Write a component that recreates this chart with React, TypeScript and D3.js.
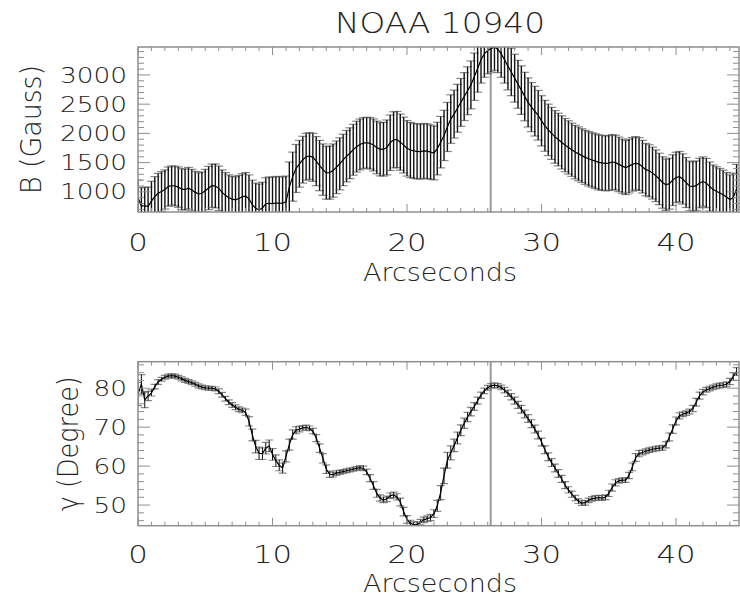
import React from "react";
import * as d3 from "d3";

// ---------- data (sampled every 0.25 arcsec) ----------
const STEP = 0.25;
const TITLE = "NOAA 10940";
const X_LABEL = "Arcseconds";
const B_LABEL = "B (Gauss)";
const G_LABEL = "\u03b3 (Degree)";
const X_TICKS = [0, 10, 20, 30, 40];
const B_TICKS = [1000, 1500, 2000, 2500, 3000];
const G_TICKS = [50, 60, 70, 80];
const MARK_X = 26.22;

const B_VALUES = [
  900, 760, 760, 750, 840, 920, 975, 1005, 1040, 1090,
  1108, 1100, 1080, 1045, 1040, 1063, 1030, 990, 966, 975,
  1020, 1065, 1105, 1100, 1060, 990, 940, 900, 875, 862,
  885, 915, 930, 880, 780, 720, 693, 725, 795, 805,
  800, 808, 807, 805, 830, 1080, 1260, 1400, 1480, 1550,
  1600, 1614, 1590, 1525, 1450, 1380, 1325, 1330, 1364, 1420,
  1480, 1546, 1610, 1660, 1720, 1773, 1810, 1835, 1841, 1830,
  1802, 1760, 1728, 1730, 1760, 1840, 1890, 1895, 1850, 1800,
  1745, 1715, 1700, 1690, 1688, 1700, 1695, 1680, 1665, 1740,
  1850, 1965, 2110, 2245, 2330, 2430, 2530, 2630, 2730, 2830,
  2970, 3110, 3260, 3360, 3420, 3450, 3478, 3440, 3360, 3260,
  3150, 3050, 2945, 2840, 2740, 2630, 2530, 2450, 2380, 2310,
  2215, 2130, 2060, 2000, 1940, 1895, 1845, 1800, 1760, 1720,
  1680, 1650, 1620, 1590, 1565, 1545, 1525, 1505, 1495, 1488,
  1492, 1510, 1500, 1470, 1440, 1415, 1440, 1470, 1490, 1475,
  1430, 1380, 1360, 1320, 1275, 1220, 1160, 1120, 1140, 1200,
  1245, 1260, 1220, 1160, 1100, 1090, 1105, 1150, 1176, 1150,
  1090, 1040, 1010, 980, 950, 910, 870, 900, 1050,
];

const B_ERRORS = [
  300, 310, 320, 330, 340, 340, 340, 340, 335, 335,
  335, 340, 345, 350, 350, 355, 355, 360, 360, 365,
  365, 370, 370, 375, 380, 385, 390, 390, 390, 395,
  395, 395, 400, 410, 420, 430, 440, 440, 445, 450,
  450, 455, 455, 450, 440, 430, 420, 410, 400, 400,
  400, 400, 410, 420, 430, 440, 450, 455, 455, 450,
  445, 440, 440, 435, 435, 435, 435, 435, 435, 440,
  445, 450, 455, 460, 470, 475, 480, 480, 480, 478,
  475, 472, 470, 470, 470, 470, 468, 465, 460, 450,
  440, 430, 420, 415, 410, 410, 410, 410, 410, 410,
  405, 405, 400, 400, 400, 400, 400, 400, 400, 400,
  405, 405, 410, 410, 415, 415, 420, 420, 425, 425,
  430, 435, 440, 445, 450, 450, 455, 455, 455, 455,
  458, 460, 460, 462, 465, 465, 468, 470, 470, 470,
  470, 470, 468, 466, 464, 462, 460, 458, 455, 452,
  450, 448, 446, 444, 442, 440, 440, 438, 436, 434,
  432, 430, 430, 428, 426, 425, 424, 423, 422, 421,
  420, 420, 420, 420, 420, 420, 420, 420, 420,
];

const G_VALUES = [
  78.5, 81.0, 77.0, 78.0, 78.8, 80.4, 81.6, 82.3, 82.8, 83.1,
  83.2, 83.1, 82.8, 82.4, 82.0, 81.7, 81.4, 81.0, 80.6, 80.3,
  80.1, 80.0, 80.0, 79.8, 79.2, 78.3, 77.3, 76.4, 75.7, 75.1,
  74.6, 74.3, 73.8, 71.5, 68.0, 65.0, 63.3, 63.2, 64.6, 65.2,
  63.0, 61.4, 60.2, 59.5, 62.5, 65.5, 68.1, 69.2, 69.5, 69.8,
  69.9, 69.7, 69.0, 67.2, 64.6, 62.0, 59.2, 57.9, 57.8, 58.2,
  58.4, 58.6, 58.8, 59.0, 59.2, 59.4, 59.6, 59.4, 58.5, 56.9,
  55.0, 53.0, 51.8, 51.3, 51.6, 52.4, 52.6, 52.1, 50.8, 48.3,
  46.3, 45.3, 45.0, 45.0, 45.6, 46.2, 46.5, 46.8, 47.8, 49.8,
  53.2, 57.5, 61.5, 63.4, 65.3, 67.2, 69.2, 71.0, 72.6, 74.0,
  75.3, 76.8, 78.2, 79.3, 80.1, 80.6, 80.8, 80.6, 80.2, 79.5,
  78.7, 77.8, 76.8, 75.7, 74.6, 73.4, 72.2, 70.9, 69.5, 68.0,
  66.2, 64.2, 62.4, 60.9, 59.5, 58.1, 56.7, 55.1, 53.9, 52.8,
  51.8, 51.0, 50.5, 50.6, 51.2, 51.6, 51.8, 51.9, 51.8, 52.0,
  53.0, 54.5, 55.7, 56.2, 56.4, 56.4, 57.6, 59.8, 62.2, 63.2,
  63.5, 63.8, 64.1, 64.3, 64.5, 64.6, 64.7, 65.5, 67.5, 69.5,
  71.6, 72.9, 73.3, 73.6, 74.0, 74.8, 76.4, 78.1, 79.0, 79.6,
  79.9, 80.2, 80.5, 80.7, 80.8, 81.0, 81.7, 83.0, 84.3,
];

const G_ERRORS = [
  3.0, 2.5, 2.0, 1.2, 0.8, 0.6, 0.6, 0.5, 0.5, 0.5,
  0.5, 0.5, 0.5, 0.5, 0.5, 0.5, 0.5, 0.5, 0.5, 0.5,
  0.5, 0.5, 0.5, 0.5, 0.6, 0.6, 0.6, 0.6, 0.6, 0.6,
  0.6, 0.6, 0.8, 1.2, 1.5, 1.6, 1.6, 1.5, 1.5, 1.5,
  1.5, 1.5, 1.4, 1.3, 1.4, 1.4, 1.2, 0.9, 0.7, 0.6,
  0.6, 0.6, 0.7, 0.9, 1.1, 1.2, 1.1, 0.8, 0.6, 0.6,
  0.5, 0.5, 0.5, 0.5, 0.5, 0.5, 0.5, 0.6, 0.7, 0.9,
  1.0, 1.0, 0.8, 0.7, 0.7, 0.7, 0.7, 0.8, 1.0, 1.1,
  1.0, 0.8, 0.7, 0.7, 0.7, 0.7, 0.7, 0.8, 1.0, 1.4,
  1.8, 2.0, 2.0, 1.8, 1.6, 1.5, 1.4, 1.3, 1.2, 1.1,
  1.0, 0.9, 0.8, 0.7, 0.6, 0.6, 0.6, 0.6, 0.6, 0.7,
  0.8, 0.8, 0.9, 0.9, 1.0, 1.0, 1.0, 1.0, 1.0, 1.0,
  1.0, 1.0, 1.0, 1.0, 1.0, 1.0, 0.9, 0.9, 0.8, 0.8,
  0.7, 0.6, 0.6, 0.6, 0.6, 0.6, 0.6, 0.6, 0.6, 0.6,
  0.8, 0.9, 0.8, 0.6, 0.6, 0.6, 0.8, 1.0, 1.0, 0.8,
  0.6, 0.6, 0.6, 0.6, 0.6, 0.6, 0.6, 0.8, 1.0, 1.1,
  1.0, 0.8, 0.6, 0.6, 0.6, 0.8, 1.0, 0.9, 0.7, 0.6,
  0.6, 0.6, 0.6, 0.6, 0.6, 0.6, 0.8, 1.0, 1.0,
];

// ---------- layout ----------
const W = 740;
const H = 600;
const LEFT = 138;
const RIGHT = 739;
const X_MAX = 44.68;
const TOP_PANEL = { top: 47, bottom: 212, yMin: 655, yMax: 3478 };
const BOT_PANEL = { top: 361.7, bottom: 525.7, yMin: 44.7, yMax: 86.8 };
const FONT = "'DejaVu Sans', sans-serif";
const AXIS = "#8f8f8f";

type PanelProps = {
  id: string;
  values: number[];
  errors: number[];
  top: number;
  bottom: number;
  yMin: number;
  yMax: number;
  yTicks: number[];
  yMinor: number;
  yMajorStep: number;
  capW: number;
  barW: number;
  yLabel: string;
  yLabelX: number;
  yLabelLen: number;
  yLabelSize: number;
  tickLabelLen: number;
  xTickBaseline: number;
  xTitleBaseline: number;
};

function Panel(p: PanelProps) {
  const x = d3.scaleLinear().domain([0, X_MAX]).range([LEFT, RIGHT]);
  const y = d3.scaleLinear().domain([p.yMin, p.yMax]).range([p.bottom, p.top]);
  const pts = p.values.map((v, i) => ({ a: i * STEP, v, e: p.errors[i] }));
  const line = d3
    .line<{ a: number; v: number }>()
    .x((d) => x(d.a))
    .y((d) => y(d.v));

  const xMinor = d3.range(0, X_MAX, 1);
  const yMinorTicks = d3.range(
    Math.ceil(p.yMin / p.yMinor) * p.yMinor,
    p.yMax,
    p.yMinor
  );
  const isMajorY = (v: number) => Math.abs(v / p.yMajorStep - Math.round(v / p.yMajorStep)) < 1e-6;
  const midY = (p.top + p.bottom) / 2;

  return (
    <g>
      <defs>
        <clipPath id={p.id}>
          <rect x={LEFT} y={p.top} width={RIGHT - LEFT} height={p.bottom - p.top} />
        </clipPath>
      </defs>
      {/* marker line */}
      <line x1={x(MARK_X)} x2={x(MARK_X)} y1={p.top} y2={p.bottom} stroke="#9a9a9a" strokeWidth={2} />
      <g clipPath={`url(#${p.id})`}>
        {pts.map((d, i) => (
          <g key={i}>
            <line x1={x(d.a) - p.capW / 2} x2={x(d.a) + p.capW / 2} y1={y(d.v + d.e)} y2={y(d.v + d.e)} stroke="#555" strokeWidth={1.2} strokeOpacity={0.7} />
            <line x1={x(d.a) - p.capW / 2} x2={x(d.a) + p.capW / 2} y1={y(d.v - d.e)} y2={y(d.v - d.e)} stroke="#555" strokeWidth={1.2} strokeOpacity={0.7} />
            <line x1={x(d.a)} x2={x(d.a)} y1={y(d.v - d.e)} y2={y(d.v + d.e)} stroke="#111" strokeWidth={p.barW} />
          </g>
        ))}
        <path d={line(pts) || ""} fill="none" stroke="#000" strokeWidth={1.2} />
      </g>
      {/* frame */}
      <rect x={LEFT} y={p.top} width={RIGHT - LEFT} height={p.bottom - p.top} fill="none" stroke={AXIS} strokeWidth={1.5} />
      {/* x ticks */}
      {xMinor.map((t) => {
        const major = t % 10 === 0;
        const len = major ? 8 : 4;
        return (
          <g key={"xt" + t}>
            <line x1={x(t)} x2={x(t)} y1={p.bottom} y2={p.bottom - len} stroke={AXIS} strokeWidth={1} />
            <line x1={x(t)} x2={x(t)} y1={p.top} y2={p.top + len} stroke={AXIS} strokeWidth={1} />
          </g>
        );
      })}
      {/* y ticks */}
      {yMinorTicks.map((t) => {
        const len = isMajorY(t) ? 12 : 6;
        return (
          <g key={"yt" + t}>
            <line x1={LEFT} x2={LEFT + len} y1={y(t)} y2={y(t)} stroke={AXIS} strokeWidth={1} />
            <line x1={RIGHT} x2={RIGHT - len} y1={y(t)} y2={y(t)} stroke={AXIS} strokeWidth={1} />
          </g>
        );
      })}
      {/* tick labels */}
      {p.yTicks.map((t) => (
        <text
          key={"yl" + t}
          x={127}
          y={y(t) + 7.6}
          textAnchor="end"
          fontFamily={FONT}
          fontSize={21}
          fontWeight={200}
          fill="#222"
          textLength={p.tickLabelLen * String(t).length}
          lengthAdjust="spacingAndGlyphs"
        >
          {t}
        </text>
      ))}
      {X_TICKS.map((t) => (
        <text
          key={"xl" + t}
          transform={`translate(${x(t)},${p.xTickBaseline}) scale(1.28,1)`}
          textAnchor="middle"
          fontFamily={FONT}
          fontSize={24}
          fontWeight={200}
          fill="#222"
        >
          {t}
        </text>
      ))}
      <text
        x={440}
        y={p.xTitleBaseline}
        textAnchor="middle"
        fontFamily={FONT}
        fontSize={25}
        fontWeight={200}
        fill="#222"
        textLength={154}
        lengthAdjust="spacingAndGlyphs"
      >
        {X_LABEL}
      </text>
      <text
        transform={`translate(${p.yLabelX},${midY}) rotate(-90)`}
        textAnchor="middle"
        fontFamily={FONT}
        fontSize={p.yLabelSize}
        fontWeight={200}
        fill="#222"
        textLength={p.yLabelLen}
        lengthAdjust="spacingAndGlyphs"
      >
        {p.yLabel}
      </text>
    </g>
  );
}

export default function App() {
  return (
    <svg
      width={W}
      height={H}
      viewBox={`0 0 ${W} ${H}`}
      style={{ position: "absolute", left: 0, top: 0, background: "#fff" }}
    >
      <rect x={0} y={0} width={W} height={H} fill="#fff" />
      <text
        x={440}
        y={33}
        textAnchor="middle"
        fontFamily={FONT}
        fontSize={29}
        fontWeight={200}
        fill="#222"
        textLength={210}
        lengthAdjust="spacingAndGlyphs"
      >
        {TITLE}
      </text>
      <Panel
        id="clipTop"
        values={B_VALUES}
        errors={B_ERRORS}
        top={TOP_PANEL.top}
        bottom={TOP_PANEL.bottom}
        yMin={TOP_PANEL.yMin}
        yMax={TOP_PANEL.yMax}
        yTicks={B_TICKS}
        yMinor={100}
        yMajorStep={500}
        capW={9}
        barW={1.4}
        yLabel={B_LABEL}
        yLabelX={40.5}
        yLabelLen={129}
        yLabelSize={28}
        tickLabelLen={16.75}
        xTickBaseline={251}
        xTitleBaseline={281}
      />
      <Panel
        id="clipBot"
        values={G_VALUES}
        errors={G_ERRORS}
        top={BOT_PANEL.top}
        bottom={BOT_PANEL.bottom}
        yMin={BOT_PANEL.yMin}
        yMax={BOT_PANEL.yMax}
        yTicks={G_TICKS}
        yMinor={2}
        yMajorStep={10}
        capW={8}
        barW={1}
        yLabel={G_LABEL}
        yLabelX={78}
        yLabelLen={135}
        yLabelSize={28}
        tickLabelLen={16.75}
        xTickBaseline={563}
        xTitleBaseline={592}
      />
    </svg>
  );
}
